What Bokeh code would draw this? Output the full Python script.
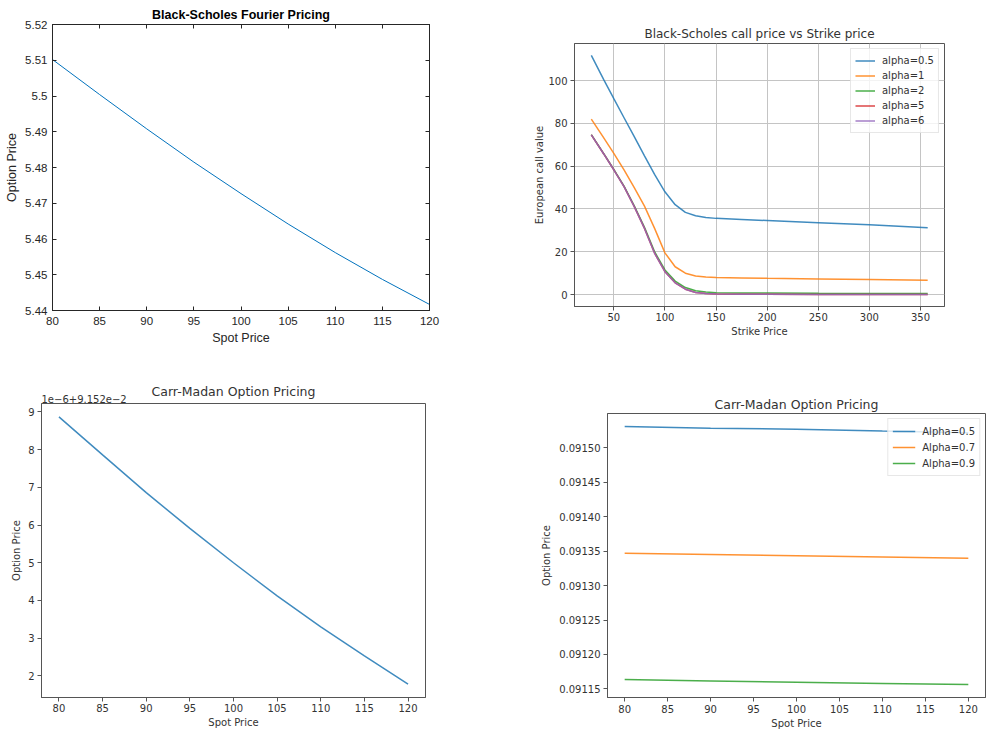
from bokeh.plotting import figure
from bokeh.layouts import column, row
from bokeh.models import Range1d, FixedTicker, LinearAxis, Title, PrintfTickFormatter, CustomJSTickFormatter
from bokeh.embed import file_html
from bokeh.resources import INLINE

# ---------------- data ----------------
# Panel 1: Black-Scholes Fourier Pricing (MATLAB style)
bs_spot = [80, 85, 90, 95, 100, 105, 110, 115, 120]
bs_price = [5.5102, 5.5004, 5.4908, 5.4815, 5.4727, 5.4642, 5.4562, 5.4487, 5.4417]
bs_xticks = [80, 85, 90, 95, 100, 105, 110, 115, 120]
bs_yticks = [5.44, 5.45, 5.46, 5.47, 5.48, 5.49, 5.50, 5.51, 5.52]

# Panel 2: Black-Scholes call price vs Strike price
strikes = [28, 40, 50, 60, 70, 80, 90, 100, 110, 120, 130, 140, 150, 175, 200, 250, 300, 357]
call_a05 = [111.7, 100.5, 91.5, 82.6, 73.8, 64.8, 56.0, 48.0, 42.0, 38.4, 36.8, 36.0, 35.6, 35.1, 34.6, 33.6, 32.6, 31.2]
call_a1 = [82.0, 73.3, 66.0, 58.3, 50.0, 41.3, 30.8, 19.5, 13.0, 10.0, 8.7, 8.2, 8.0, 7.8, 7.6, 7.3, 7.0, 6.7]
call_a2 = [74.7, 66.0, 58.5, 50.7, 41.5, 31.4, 19.9, 11.5, 6.3, 3.3, 1.8, 1.2, 0.9, 0.75, 0.7, 0.6, 0.55, 0.5]
call_a5 = [74.6, 65.8, 58.3, 50.4, 41.1, 30.9, 19.2, 10.7, 5.5, 2.5, 1.0, 0.5, 0.3, 0.15, 0.1, 0.05, 0.03, 0.02]
call_a6 = [74.6, 65.8, 58.3, 50.4, 41.1, 30.9, 19.2, 10.7, 5.5, 2.5, 1.0, 0.5, 0.3, 0.15, 0.1, 0.05, 0.03, 0.02]
call_labels = ["alpha=0.5", "alpha=1", "alpha=2", "alpha=5", "alpha=6"]
strike_xticks = [50, 100, 150, 200, 250, 300, 350]
call_yticks = [0, 20, 40, 60, 80, 100]

# Panel 3: Carr-Madan Option Pricing (values in units of 1e-6, offset 9.152e-2)
cm_spot = [80, 85, 90, 95, 100, 105, 110, 115, 120]
cm_price = [8.87, 7.86, 6.86, 5.91, 5.00, 4.12, 3.30, 2.53, 1.78]
cm_offset_text = "1e\u22126+9.152e\u22122"
cm_xticks = [80, 85, 90, 95, 100, 105, 110, 115, 120]
cm_yticks = [2, 3, 4, 5, 6, 7, 8, 9]

# Panel 4: Carr-Madan Option Pricing, several alphas
cm2_spot = [80, 90, 100, 110, 120]
cm2_a05 = [0.0915310, 0.0915285, 0.0915270, 0.0915242, 0.0915218]
cm2_a07 = [0.0913470, 0.0913452, 0.0913434, 0.0913416, 0.0913398]
cm2_a09 = [0.0911636, 0.0911616, 0.0911598, 0.0911580, 0.0911563]
cm2_labels = ["Alpha=0.5", "Alpha=0.7", "Alpha=0.9"]
cm2_yticks = [0.09115, 0.09120, 0.09125, 0.09130, 0.09135, 0.09140, 0.09145, 0.09150]

TAB = ["#1f77b4", "#ff7f0e", "#2ca02c", "#d62728", "#9467bd"]


def margin_range(vals, frac=0.05):
    lo, hi = min(vals), max(vals)
    d = (hi - lo) * frac
    return Range1d(lo - d, hi + d)


def mpl_style(p, tick_size="10px", label_size="10px", title_size="12px"):
    font = "DejaVu Sans"
    p.outline_line_color = "#555555"
    p.outline_line_width = 1
    p.title.text_font = font
    p.title.text_font_style = "normal"
    p.title.text_font_size = title_size
    p.title.text_color = "#333333"
    p.title.align = "center"
    p.title.standoff = 3
    for ax in p.axis:
        ax.axis_line_color = "#555555"
        ax.major_tick_line_color = "#555555"
        ax.major_tick_out = 4
        ax.major_tick_in = 0
        ax.minor_tick_line_color = None
        ax.major_label_text_font = font
        ax.major_label_text_font_size = tick_size
        ax.major_label_text_color = "#333333"
        ax.axis_label_text_font = font
        ax.axis_label_text_font_size = label_size
        ax.axis_label_text_font_style = "normal"
        ax.axis_label_text_color = "#333333"
        ax.major_label_standoff = 2
        ax.axis_label_standoff = 2


def style_legend(lg, glyph_w, row_h, standoff, padding):
    lg.location = "top_right"
    lg.margin = 5
    lg.padding = padding
    lg.spacing = 0
    lg.glyph_width = glyph_w
    lg.glyph_height = row_h
    lg.label_height = row_h
    lg.label_standoff = standoff
    lg.label_text_font = "DejaVu Sans"
    lg.label_text_font_size = "10px"
    lg.label_text_color = "#333333"
    lg.border_line_color = "#d0d0d0"
    lg.background_fill_alpha = 0.8


# ---------------- panel 1 ----------------
p1 = figure(width=530, height=370, output_backend="svg", toolbar_location=None,
            x_range=Range1d(80, 120), y_range=Range1d(5.44, 5.52),
            min_border_left=52, min_border_right=101, min_border_top=24, min_border_bottom=60,
            title="Black-Scholes Fourier Pricing")
p1.line(bs_spot, bs_price, line_color="#0072BD", line_width=1)
p1.grid.visible = False
p1.outline_line_color = "#262626"
p1.title.text_font = "Liberation Sans"
p1.title.text_font_size = "12.5px"
p1.title.text_font_style = "bold"
p1.title.text_color = "#000000"
p1.title.align = "center"
p1.title.standoff = 5
p1.xaxis.axis_label = "Spot Price"
p1.yaxis.axis_label = "Option Price"
p1.xaxis.ticker = FixedTicker(ticks=bs_xticks)
p1.yaxis.ticker = FixedTicker(ticks=bs_yticks)
p1.yaxis.formatter = CustomJSTickFormatter(code="return String(parseFloat(tick.toFixed(2)));")
blank = CustomJSTickFormatter(code="return '';")
top_ax = LinearAxis(ticker=FixedTicker(ticks=bs_xticks), formatter=blank,
                    major_label_text_font_size="1px", major_label_standoff=0)
right_ax = LinearAxis(ticker=FixedTicker(ticks=bs_yticks), formatter=blank,
                      major_label_text_font_size="1px", major_label_standoff=0)
p1.add_layout(top_ax, "above")
p1.add_layout(right_ax, "right")
for ax in p1.axis:
    ax.axis_line_color = "#262626"
    ax.major_tick_line_color = "#262626"
    ax.major_tick_in = 4
    ax.major_tick_out = 0
    ax.minor_tick_line_color = None
    ax.major_label_text_font = "Liberation Sans"
    ax.axis_label_text_font = "Liberation Sans"
    ax.axis_label_text_font_style = "normal"
    ax.axis_label_text_font_size = "12.5px"
    ax.axis_label_text_color = "#262626"
    ax.major_label_text_color = "#262626"
p1.below[0].major_label_text_font_size = "11.5px"
p1.left[0].major_label_text_font_size = "11.5px"
p1.below[0].major_label_standoff = 6
p1.below[0].axis_label_standoff = 3
p1.left[0].major_label_standoff = 5
p1.left[0].axis_label_standoff = 3

# ---------------- panel 2 ----------------
all_calls = call_a05 + call_a1 + call_a2 + call_a5 + call_a6
p2 = figure(width=456, height=370, output_backend="svg", toolbar_location=None,
            x_range=margin_range(strikes), y_range=margin_range(all_calls),
            min_border_left=44, min_border_right=42, min_border_top=43, min_border_bottom=64,
            title="Black-Scholes call price vs Strike price")
for ys, c, lab in zip([call_a05, call_a1, call_a2, call_a5, call_a6], TAB, call_labels):
    p2.line(strikes, ys, line_color=c, line_width=1.5, line_alpha=0.85, legend_label=lab)
p2.xaxis.axis_label = "Strike Price"
p2.yaxis.axis_label = "European call value"
p2.xaxis.ticker = FixedTicker(ticks=strike_xticks)
p2.yaxis.ticker = FixedTicker(ticks=call_yticks)
p2.grid.grid_line_color = "#c4c4c4"
p2.grid.grid_line_width = 1
mpl_style(p2)
p2.title.standoff = 5
p2.yaxis.major_label_standoff = 3
p2.yaxis.axis_label_standoff = 0
style_legend(p2.legend[0], 20, 15, 7, 4)

# ---------------- panel 3 ----------------
p3 = figure(width=530, height=361, output_backend="svg", toolbar_location=None,
            x_range=margin_range(cm_spot), y_range=margin_range(cm_price),
            min_border_left=41, min_border_right=105, min_border_top=33, min_border_bottom=34,
            title="Carr-Madan Option Pricing")
p3.line(cm_spot, cm_price, line_color=TAB[0], line_width=1.5, line_alpha=0.85)
p3.grid.visible = False
p3.xaxis.axis_label = "Spot Price"
p3.yaxis.axis_label = "Option Price"
p3.xaxis.ticker = FixedTicker(ticks=cm_xticks)
p3.yaxis.ticker = FixedTicker(ticks=cm_yticks)
mpl_style(p3, title_size="12.5px")
p3.yaxis.major_label_standoff = 3
p3.yaxis.axis_label_standoff = 3
p3.title.standoff = -12
p3.add_layout(Title(text=cm_offset_text, align="left", text_font="DejaVu Sans",
                    text_font_size="10px", text_font_style="normal", text_color="#333333",
                    standoff=1), "above")

# ---------------- panel 4 ----------------
all_cm2 = cm2_a05 + cm2_a07 + cm2_a09
p4 = figure(width=456, height=361, output_backend="svg", toolbar_location=None,
            x_range=margin_range(cm2_spot), y_range=margin_range(all_cm2),
            min_border_left=77, min_border_right=1, min_border_top=43, min_border_bottom=34,
            title="Carr-Madan Option Pricing")
for ys, c, lab in zip([cm2_a05, cm2_a07, cm2_a09], TAB, cm2_labels):
    p4.line(cm2_spot, ys, line_color=c, line_width=1.5, line_alpha=0.85, legend_label=lab)
p4.grid.visible = False
p4.xaxis.axis_label = "Spot Price"
p4.yaxis.axis_label = "Option Price"
p4.xaxis.ticker = FixedTicker(ticks=cm_xticks)
p4.yaxis.ticker = FixedTicker(ticks=cm2_yticks)
p4.yaxis.formatter = PrintfTickFormatter(format="%.5f")
mpl_style(p4, title_size="12.5px")
p4.xaxis.major_label_standoff = 3
p4.yaxis.major_label_standoff = 3
p4.yaxis.axis_label_standoff = 4
style_legend(p4.legend[0], 23, 16, 7, 4)

layout = column(row(column(p1), column(p2)), row(column(p3), column(p4)))
open("out.html", "w").write(file_html(layout, INLINE))
